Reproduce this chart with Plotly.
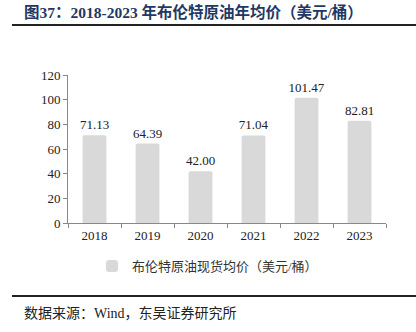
import plotly.graph_objects as go

years = ["2018", "2019", "2020", "2021", "2022", "2023"]
prices = [71.13, 64.39, 42.00, 71.04, 101.47, 82.81]
value_labels = ["71.13", "64.39", "42.00", "71.04", "101.47", "82.81"]
y_ticks = [0, 20, 40, 60, 80, 100, 120]
series_name = "布伦特原油现货均价（美元/桶）"
title_text = "图37：2018-2023 年布伦特原油年均价（美元/桶）"
source_text = "数据来源：Wind，东吴证券研究所"

W, H = 416, 332
L, R, T, B = 68, 30, 75, 109
pw, ph = W - L - R, H - T - B

def px_x(px):
    return (px - L) / pw

def px_y(py):
    return (H - B - py) / ph

serif = "Liberation Serif, Times New Roman, Noto Sans CJK SC, serif"
cjk = "Liberation Serif, Noto Sans CJK SC, serif"

fig = go.Figure()
fig.add_trace(go.Bar(
    x=years, y=prices, name=series_name,
    marker=dict(color="#d9d9d9", cornerradius=2, line=dict(width=0)),
    width=0.45,
    text=value_labels, textposition="outside", cliponaxis=False,
    textfont=dict(family=serif, size=13, color="#222222"),
))

fig.update_layout(
    width=W, height=H,
    margin=dict(l=L, r=R, t=T, b=B, pad=0),
    paper_bgcolor="white", plot_bgcolor="white",
    showlegend=True,
    uniformtext=dict(minsize=13, mode="show"),
    legend=dict(orientation="h", x=px_x(92), y=px_y(266), xanchor="left", yanchor="middle",
                font=dict(family=cjk, size=13, color="#333333"),
                itemwidth=30, bgcolor="rgba(0,0,0,0)"),
    xaxis=dict(showline=True, linecolor="#888888", linewidth=1,
               ticks="outside", tickson="boundaries", ticklen=4, tickcolor="#888888",
               tickfont=dict(family=serif, size=13, color="#222222"), showgrid=False),
    yaxis=dict(range=[0, 120], tickvals=y_ticks, showline=True, linecolor="#888888", linewidth=1,
               ticks="outside", ticklen=4, tickcolor="#888888", showgrid=False, zeroline=False,
               tickfont=dict(family=serif, size=13, color="#222222")),
    bargap=0.55,
)

fig.add_shape(type="line", xref="paper", yref="paper", x0=px_x(12), x1=px_x(416),
              y0=px_y(25), y1=px_y(25), line=dict(color="#222222", width=2))
fig.add_shape(type="line", xref="paper", yref="paper", x0=px_x(12), x1=px_x(416),
              y0=px_y(296), y1=px_y(296), line=dict(color="#222222", width=2))

fig.add_annotation(xref="paper", yref="paper", x=px_x(22), y=px_y(12), xanchor="left", yanchor="middle",
                   text="<b>" + title_text + "</b>", showarrow=False,
                   font=dict(family=cjk, size=15.5, color="#1f3864"))
fig.add_annotation(xref="paper", yref="paper", x=px_x(22), y=px_y(313), xanchor="left", yanchor="middle",
                   text=source_text, showarrow=False,
                   font=dict(family=cjk, size=14, color="#222222"))

fig.write_html("out.html")
